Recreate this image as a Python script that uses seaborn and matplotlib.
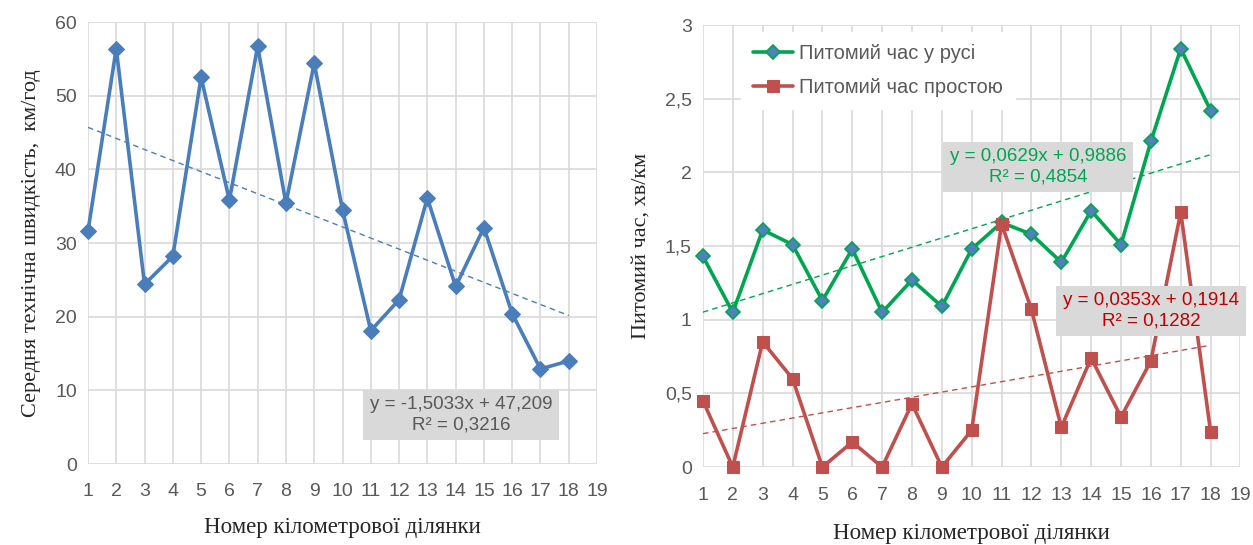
import numpy as np
import pandas as pd
import matplotlib
matplotlib.use("Agg")
import matplotlib.pyplot as plt
from matplotlib.ticker import FuncFormatter, MultipleLocator
import seaborn as sns

# data
km = list(range(1, 19))
speed = [31.6, 56.4, 24.4, 28.2, 52.5, 35.8, 56.7, 35.4, 54.4,
         34.5, 18.1, 22.3, 36.1, 24.1, 32.1, 20.4, 12.9, 14.0]
t_move = [1.43, 1.05, 1.61, 1.51, 1.13, 1.48, 1.05, 1.27, 1.09,
          1.48, 1.66, 1.58, 1.39, 1.74, 1.51, 2.21, 2.84, 2.42]
t_stop = [0.45, 0.0, 0.85, 0.60, 0.0, 0.17, 0.0, 0.43, 0.0,
          0.25, 1.65, 1.07, 0.27, 0.74, 0.34, 0.72, 1.73, 0.24]

# trendline coefficients as printed on the chart
trend_speed = (-1.5033, 47.209)
trend_move = (0.0629, 0.9886)
trend_stop = (0.0353, 0.1914)

label_speed = "y = -1,5033x + 47,209\nR² = 0,3216"
label_move = "y = 0,0629x + 0,9886\nR² = 0,4854"
label_stop = "y = 0,0353x + 0,1914\nR² = 0,1282"

sns.set_style("white")
plt.rcParams['font.family'] = ['Liberation Sans', 'DejaVu Sans']

BLUE = '#4A7EBB'
GREEN = '#00A550'
RED = '#C0504D'
GRAY_TXT = '#595959'
GRID = '#D9D9D9'
H = 545  # figure height in px, for placing the boxes

fig = plt.figure(figsize=(12.53, 5.45), dpi=100)
ax1 = fig.add_axes([0.0702, 0.1486, 0.4063, 0.811])
ax2 = fig.add_axes([0.561, 0.143, 0.429, 0.811])

df = pd.DataFrame({'km': km, 'speed': speed, 'move': t_move, 'stop': t_stop})
x_tr = np.array([km[0], km[-1]])


def style_axes(ax, ymax, ystep):
    ax.set_xlim(1, 19)
    ax.set_ylim(0, ymax)
    ax.xaxis.set_major_locator(MultipleLocator(1))
    ax.yaxis.set_major_locator(MultipleLocator(ystep))
    ax.yaxis.set_major_formatter(FuncFormatter(lambda v, p: ('%g' % v).replace('.', ',')))
    ax.grid(True, color=GRID, lw=1.2)
    ax.set_axisbelow(True)
    for s in ax.spines.values():
        s.set_visible(False)
    ax.tick_params(length=0, labelsize=14, colors=GRAY_TXT, pad=8)
    ax.tick_params(axis='x', pad=14)


def eq_box(ax, x, y, txt, color):
    ax.text(x, H - y, txt, transform=None, ha='center', va='center',
            fontsize=13.5, color=color, linespacing=1.25, zorder=5,
            bbox=dict(boxstyle='square,pad=0.35', fc='#D9D9D9', ec='none'))


# left chart
style_axes(ax1, 60, 10)
sns.lineplot(data=df, x='km', y='speed', ax=ax1, color=BLUE, lw=2.6,
             marker='D', markersize=8, markeredgecolor=BLUE, clip_on=False)
sns.lineplot(x=x_tr, y=trend_speed[0] * x_tr + trend_speed[1], ax=ax1,
             color=BLUE, lw=1, linestyle=(0, (4, 3)))
eq_box(ax1, 461, 415, label_speed, GRAY_TXT)
ax1.set_xlabel('Номер кілометрової ділянки', family='Liberation Serif',
               fontsize=16.5, labelpad=12)
ax1.set_ylabel('Середня технічна швидкість,  км/год', family='Liberation Serif',
               fontsize=16, labelpad=10)

# right chart
style_axes(ax2, 3, 0.5)
sns.lineplot(data=df, x='km', y='move', ax=ax2, color=GREEN, lw=2.6,
             marker='D', markersize=7, markerfacecolor='#4F81BD', clip_on=False,
             markeredgecolor=GREEN, markeredgewidth=1.2, label='Питомий час у русі')
sns.lineplot(data=df, x='km', y='stop', ax=ax2, color=RED, lw=2.6, clip_on=False,
             marker='s', markersize=8, markeredgecolor=RED, label='Питомий час простою')
sns.lineplot(x=x_tr, y=trend_move[0] * x_tr + trend_move[1], ax=ax2,
             color=GREEN, lw=1, linestyle=(0, (4, 3)))
sns.lineplot(x=x_tr, y=trend_stop[0] * x_tr + trend_stop[1], ax=ax2,
             color=RED, lw=1, linestyle=(0, (4, 3)))
eq_box(ax2, 1038, 167, label_move, GREEN)
eq_box(ax2, 1151, 311, label_stop, '#C00000')
leg = ax2.legend(loc='upper left', bbox_to_anchor=(0.07, 0.985), frameon=True,
                 fancybox=False, edgecolor='white', framealpha=1,
                 fontsize=14.5, handlelength=2.0, labelspacing=0.75,
                 borderaxespad=0, handletextpad=0.3, borderpad=0.6)
for t in leg.get_texts():
    t.set_color(GRAY_TXT)
ax2.set_xlabel('Номер кілометрової ділянки', family='Liberation Serif',
               fontsize=16.5, labelpad=14)
ax2.set_ylabel('Питомий час, хв/км', family='Liberation Serif',
               fontsize=16, labelpad=10)

fig.savefig('out.png', dpi=100)
